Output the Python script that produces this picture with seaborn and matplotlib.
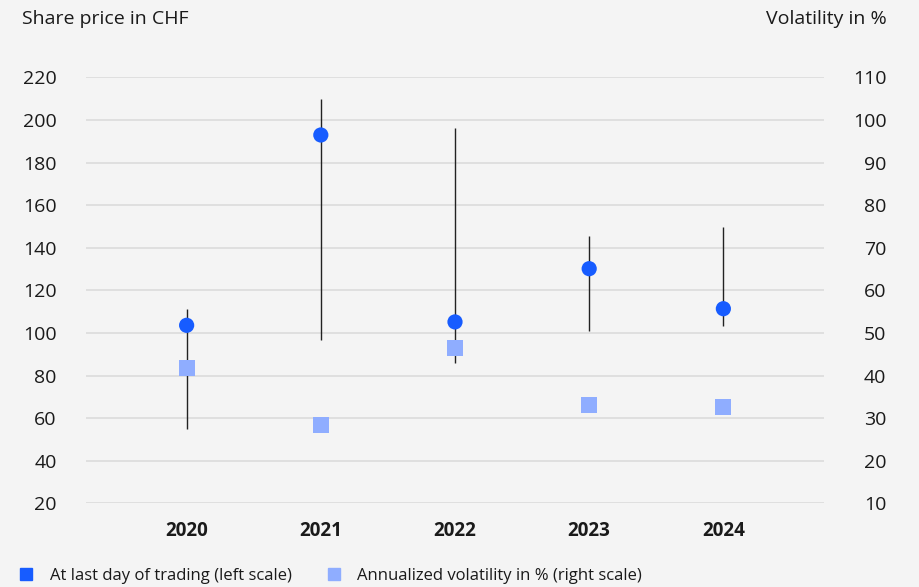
import matplotlib
matplotlib.use("Agg")
import matplotlib.pyplot as plt
import seaborn as sns
import pandas as pd
from matplotlib.lines import Line2D

# Share price per year (CHF) and annualized volatility (%)
years = ["2020", "2021", "2022", "2023", "2024"]
close_price = [103.6, 193.0, 105.2, 130.2, 111.4]
high_price = [111.3, 209.8, 196.1, 145.6, 149.9]
low_price = [55.0, 96.7, 86.0, 100.9, 103.1]
volatility = [41.8, 28.4, 46.5, 33.1, 32.6]

left_ticks = list(range(20, 221, 20))
right_ticks = list(range(10, 111, 10))

BG = "#f4f4f4"
BLUE = "#175cff"
LIGHT_BLUE = "#8fadff"
TEXT = "#1a1a1a"
GRID = "#dddddd"

sns.set_theme(style="white", rc={"axes.facecolor": BG, "figure.facecolor": BG})
plt.rcParams["font.family"] = ["Open Sans", "DejaVu Sans"]
plt.rcParams["text.color"] = TEXT
plt.rcParams["xtick.color"] = TEXT
plt.rcParams["ytick.color"] = TEXT

df = pd.DataFrame({
    "pos": range(len(years)),
    "year": years,
    "close": close_price,
    "high": high_price,
    "low": low_price,
    "volatility": volatility,
})

fig = plt.figure(figsize=(9.2, 5.87), dpi=100)
ax = fig.add_axes([86 / 920, 1 - 503.3 / 587, (824 - 86) / 920, (503.3 - 77.5) / 587])

# yearly high-low range
ax.vlines(df["pos"], df["low"], df["high"], color="#222222", lw=1.0, zorder=2)
sns.scatterplot(data=df, x="pos", y="close", ax=ax, color=BLUE, s=120,
                edgecolor="none", linewidth=0, zorder=3, legend=False)

ax2 = ax.twinx()
sns.scatterplot(data=df, x="pos", y="volatility", ax=ax2, marker="s",
                color=LIGHT_BLUE, s=135, edgecolor="none", linewidth=0,
                zorder=3, legend=False)

ax.set_xlim(-0.75, 4.75)
ax.set_ylim(20, 220)
ax2.set_ylim(10, 110)
ax.set_yticks(left_ticks)
ax2.set_yticks(right_ticks)
ax.set_xticks(df["pos"], years)
for lbl in ax.get_xticklabels():
    lbl.set_fontweight("bold")

ax.set_axisbelow(True)
ax.yaxis.grid(True, color=GRID, lw=1.3)
ax.xaxis.grid(False)
for a in (ax, ax2):
    for s in a.spines.values():
        s.set_visible(False)
    a.set_xlabel("")
    a.set_ylabel("")

ax.tick_params(axis="y", length=0, pad=21, labelsize=14)
ax.tick_params(axis="x", length=0, pad=13, labelsize=13.5)
ax2.tick_params(axis="y", length=0, pad=45, labelsize=14)
for lbl in ax2.get_yticklabels():
    lbl.set_horizontalalignment("right")

fig.text(22 / 920, 1 - 19 / 587, "Share price in CHF", ha="left", va="center", fontsize=14)
fig.text(887 / 920, 1 - 19 / 587, "Volatility in %", ha="right", va="center", fontsize=14)

handles = [
    Line2D([], [], marker="s", linestyle="none", color=BLUE, markersize=8.5),
    Line2D([], [], marker="s", linestyle="none", color=LIGHT_BLUE, markersize=8.5),
]
labels = ["At last day of trading (left scale)", "Annualized volatility in % (right scale)"]
fig.legend(handles, labels, loc="center left", bbox_to_anchor=(18 / 920, 1 - 576 / 587),
           ncol=2, frameon=False, fontsize=12, handlelength=1.0, handletextpad=0.92,
           columnspacing=2.0, borderpad=0, borderaxespad=0)

fig.savefig("out.png", dpi=100, facecolor=BG)
